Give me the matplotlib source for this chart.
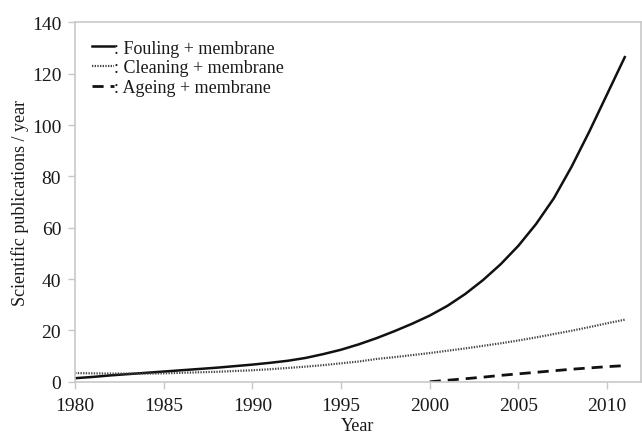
import numpy as np
import matplotlib
matplotlib.use('Agg')
import matplotlib.pyplot as plt

plt.rcParams['font.family'] = ['Liberation Serif', 'DejaVu Serif']

years = np.arange(1980, 2012)
fouling = [1.4, 1.9, 2.5, 3.0, 3.5, 4.0, 4.5, 5.0, 5.5, 6.1,
           6.7, 7.4, 8.2, 9.3, 10.8, 12.5, 14.6, 17.0, 19.7, 22.6,
           25.8, 29.6, 34.2, 39.6, 45.8, 53.0, 61.5, 71.5, 83.8, 97.5,
           112.0, 126.5]
cleaning = [3.4, 3.3, 3.2, 3.2, 3.2, 3.3, 3.5, 3.7, 3.9, 4.2,
            4.5, 4.9, 5.4, 5.9, 6.5, 7.2, 7.9, 8.9, 9.6, 10.4,
            11.2, 12.1, 13.0, 14.0, 15.0, 16.1, 17.3, 18.6, 19.9, 21.3,
            22.8, 24.2]
ageing_years = np.arange(2000, 2012)
ageing = [0.0, 0.6, 1.2, 1.8, 2.5, 3.1, 3.7, 4.3, 4.9, 5.4, 5.9, 6.3]

fig = plt.figure(figsize=(6.42, 4.35), dpi=100)
ax = fig.add_axes([0.117, 0.120, 0.881, 0.826])

ax.plot(years, fouling, color='#111111', linewidth=1.8, label=': Fouling + membrane')
ax.plot(years, cleaning, color='#444444', linewidth=1.6, linestyle=(0, (0.6, 0.6)),
        label=': Cleaning + membrane')
ax.plot(ageing_years, ageing, color='#111111', linewidth=2.0, linestyle=(0, (4, 2.5)),
        label=': Ageing + membrane')

ax.set_xlim(1980, 2011.9)
ax.set_ylim(0, 140)
ax.set_xticks(np.arange(1980, 2011, 5))
ax.set_yticks(np.arange(0, 141, 20))

for s in ax.spines.values():
    s.set_color('#c8c8c8')
    s.set_linewidth(1.2)
ax.tick_params(direction='out', length=5, width=1, color='#c8c8c8',
               labelsize=14, labelcolor='#1a1a1a')
ax.tick_params(axis='x', pad=6)
ax.tick_params(axis='y', pad=5)

ax.set_xlabel('Year', fontsize=13, color='#1a1a1a', labelpad=2)
ax.set_ylabel('Scientific publications / year', fontsize=13, color='#1a1a1a', labelpad=2)

leg = ax.legend(loc='upper left', frameon=False, fontsize=13, handlelength=1.2,
                handletextpad=0.0, labelspacing=0.15, borderaxespad=0.55)
for t in leg.get_texts():
    t.set_color('#1a1a1a')

fig.savefig('out.png', dpi=100)
